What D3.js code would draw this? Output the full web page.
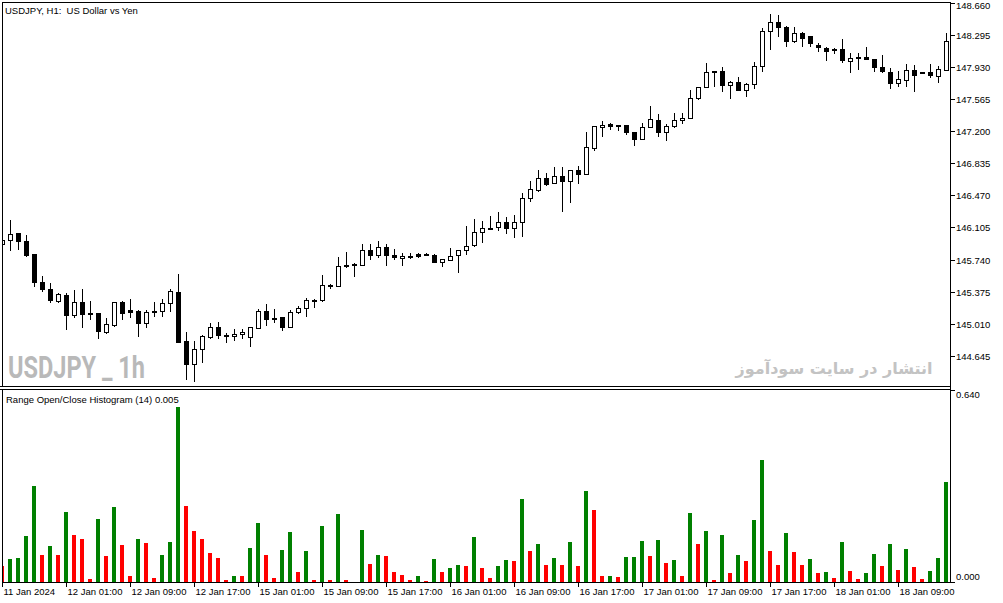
<!DOCTYPE html>
<html>
<head>
<meta charset="utf-8">
<script src="https://cdn.jsdelivr.net/npm/d3@7"></script>
<style>
body{margin:0;background:#fff;}
svg text{font-family:"Liberation Sans",Arial,sans-serif;font-size:9.5px;fill:#000;white-space:pre;}
</style>
</head>
<body>
<div id="chart"></div>
<script>

// USDJPY H1, 11 Jan 17:00 -> 18 Jan 15:00
const opens = [145.913,145.954,146.033,145.950,145.803,145.484,145.405,145.261,145.333,145.102,
145.254,145.132,145.129,144.908,144.996,145.254,145.156,145.155,145.015,145.140,
145.147,145.242,145.371,144.803,144.545,144.720,144.852,144.965,144.877,144.871,
144.889,144.856,144.958,145.155,145.075,145.079,144.965,145.140,145.178,145.280,
145.269,145.445,145.439,145.670,145.689,145.670,145.848,145.783,145.879,145.791,
145.754,145.780,145.795,145.795,145.791,145.708,145.734,145.783,145.840,145.894,
146.045,146.087,146.106,146.163,146.095,146.163,146.436,146.530,146.663,146.606,
146.683,146.624,146.757,146.708,147.004,147.242,147.271,147.249,147.265,147.183,
147.106,147.242,147.325,147.189,147.249,147.320,147.345,147.567,147.697,147.875,
147.879,147.720,147.749,147.658,147.731,147.931,148.333,148.436,148.379,148.215,
148.311,148.272,148.178,148.140,148.130,148.129,147.988,148.036,148.038,148.015,
147.924,147.867,147.742,147.780,147.886,147.863,147.863,147.817,147.886]

const highs = [145.996,146.189,146.045,146.019,145.806,145.553,145.470,145.356,145.356,145.394,
145.405,145.269,145.132,145.072,145.257,145.269,145.291,145.170,145.166,145.254,
145.291,145.402,145.572,144.913,144.814,144.882,145.022,145.033,144.902,144.947,
144.947,144.973,145.178,145.235,145.178,145.087,145.166,145.212,145.299,145.291,
145.564,145.462,145.772,145.829,145.704,145.916,145.916,145.950,145.916,145.859,
145.811,145.811,145.811,145.811,145.803,145.748,145.867,145.850,146.121,146.200,
146.178,146.235,146.280,146.220,146.246,146.499,146.632,146.757,146.727,146.788,
146.788,146.757,146.803,147.192,147.261,147.314,147.295,147.268,147.274,147.189,
147.288,147.485,147.394,147.280,147.402,147.402,147.666,147.697,147.977,147.879,
147.924,147.772,147.811,147.742,147.981,148.367,148.527,148.519,148.394,148.379,
148.322,148.275,148.204,148.158,148.147,148.242,148.083,148.083,148.152,148.018,
148.064,147.913,147.882,147.962,147.950,147.866,147.962,147.939,148.311]

const lows = [145.882,145.840,145.848,145.772,145.431,145.374,145.249,145.242,144.939,145.079,
144.965,145.053,144.837,144.894,144.977,145.053,145.072,144.863,144.965,145.083,
145.083,145.140,144.792,144.371,144.352,144.567,144.837,144.837,144.795,144.817,
144.833,144.749,144.947,144.984,145.015,144.931,144.958,145.121,145.090,145.186,
145.263,145.402,145.431,145.647,145.545,145.666,145.734,145.754,145.666,145.734,
145.670,145.746,145.754,145.780,145.700,145.652,145.726,145.583,145.791,145.886,
145.931,146.075,146.067,146.030,145.988,145.999,146.397,146.511,146.579,146.595,
146.283,146.386,146.602,146.700,146.977,147.129,147.212,147.200,147.152,147.033,
147.098,147.231,147.129,147.090,147.231,147.280,147.342,147.553,147.686,147.697,
147.640,147.561,147.658,147.583,147.678,147.874,148.121,148.272,148.158,148.204,
148.158,148.158,148.102,147.996,148.072,147.979,147.856,147.894,148.005,147.874,
147.856,147.678,147.704,147.704,147.647,147.843,147.799,147.742,147.883]

const closes = [145.962,146.027,145.942,145.791,145.477,145.402,145.272,145.345,145.102,145.254,
145.117,145.124,144.920,145.004,145.254,145.129,145.138,145.015,145.140,145.152,
145.242,145.382,144.795,144.545,144.720,144.863,144.965,144.874,144.872,144.890,
144.908,144.970,145.155,145.053,145.064,144.965,145.140,145.178,145.280,145.274,
145.442,145.439,145.666,145.664,145.689,145.848,145.783,145.879,145.791,145.761,
145.777,145.774,145.776,145.793,145.704,145.746,145.780,145.839,145.892,146.043,
146.095,146.098,146.158,146.091,146.163,146.436,146.538,146.663,146.598,146.689,
146.627,146.755,146.705,147.010,147.249,147.261,147.251,147.265,147.181,147.100,
147.242,147.328,147.186,147.251,147.321,147.339,147.574,147.693,147.866,147.869,
147.723,147.749,147.660,147.727,147.937,148.337,148.435,148.380,148.217,148.314,
148.255,148.196,148.149,148.108,148.118,147.997,148.024,148.027,148.009,147.923,
147.872,147.741,147.781,147.889,147.837,147.854,147.827,147.896,148.218]

// Range Open/Close Histogram (14)
const rangeValues = [0.052,0.076,0.079,0.152,0.319,0.089,0.119,0.089,0.232,0.156,
0.142,0.009,0.209,0.086,0.249,0.122,0.019,0.142,0.129,0.012,
0.089,0.132,0.582,0.252,0.169,0.142,0.096,0.079,0.006,0.019,
0.019,0.112,0.196,0.089,0.012,0.106,0.166,0.032,0.102,0.006,
0.186,0.006,0.226,0.006,0.000,0.172,0.059,0.089,0.086,0.032,
0.022,0.006,0.019,0.002,0.076,0.032,0.046,0.056,0.052,0.149,
0.046,0.012,0.052,0.072,0.069,0.276,0.102,0.126,0.056,0.079,
0.056,0.132,0.052,0.302,0.239,0.019,0.020,0.016,0.082,0.083,
0.136,0.086,0.139,0.062,0.072,0.019,0.229,0.126,0.169,0.006,
0.156,0.029,0.089,0.069,0.206,0.406,0.102,0.056,0.162,0.099,
0.056,0.076,0.029,0.032,0.012,0.132,0.036,0.009,0.029,0.092,
0.052,0.126,0.039,0.109,0.049,0.009,0.036,0.079,0.332]

const priceTicks = [148.660,148.295,147.930,147.565,147.200,146.835,146.470,146.105,145.740,145.375,145.010,144.645]
const rangeTicks = [0.640,0.000]
const timeLabels = ['11 Jan 2024','12 Jan 01:00','12 Jan 09:00','12 Jan 17:00','15 Jan 01:00','15 Jan 09:00',
'15 Jan 17:00','16 Jan 01:00','16 Jan 09:00','16 Jan 17:00','17 Jan 01:00','17 Jan 09:00',
'17 Jan 17:00','18 Jan 01:00','18 Jan 09:00']
const barsPerLabel = 8

const width = 1003, height = 603

const frame = {left:2, right:950, top:2, mainBottom:386, subTop:389, subBottom:582}

const svg = d3.select('#chart')
.append('svg')
.attr('width', width)
.attr('height', height)
.style('display', 'block')

const defs = svg.append('defs')
defs.append('clipPath').attr('id', 'clip-main')
.append('rect')
.attr('x', frame.left + 1).attr('y', frame.top + 1)
.attr('width', frame.right - frame.left - 1).attr('height', frame.mainBottom - frame.top - 1)
defs.append('clipPath').attr('id', 'clip-sub')
.append('rect')
.attr('x', frame.left + 1).attr('y', frame.subTop + 1)
.attr('width', frame.right - frame.left - 1).attr('height', frame.subBottom - frame.subTop - 1)

const xScale = d3.scaleLinear()
.domain([0, opens.length - 1])
.range([2.5, 946.5])

const yPrice = d3.scaleLinear()
.domain([144.645, 148.660])
.range([355.9, 2.6])

const yRange = d3.scaleLinear()
.domain([0, 0.64])
.range([frame.subBottom, 390])

const candles = opens.map((o, i) => ({i:i, open:o, high:highs[i], low:lows[i], close:closes[i]}))

// watermarks
svg.append('text')
.attr('x', 8)
.attr('y', 378)
.attr('textLength', 137)
.attr('lengthAdjust', 'spacingAndGlyphs')
.style('font-family', '"Liberation Sans Narrow","Roboto","Liberation Sans",sans-serif')
.style('font-weight', 'bold')
.style('font-size', '31px')
.style('fill', '#b9b9b9')
.text('USDJPY _ 1h')

svg.append('text')
.attr('x', 834)
.attr('y', 374)
.attr('text-anchor', 'middle')
.attr('direction', 'rtl')
.style('font-family', '"DejaVu Sans",sans-serif')
.style('font-weight', 'bold')
.style('font-size', '16px')
.style('fill', '#c3c3c3')
.text('انتشار در سایت سودآموز')

// candles
const cg = svg.append('g')
.attr('clip-path', 'url(#clip-main)')
.attr('shape-rendering', 'crispEdges')

cg.selectAll('line.wick')
.data(candles)
.enter()
.append('line')
.attr('class', 'wick')
.attr('x1', d => xScale(d.i))
.attr('x2', d => xScale(d.i))
.attr('y1', d => yPrice(d.high))
.attr('y2', d => yPrice(d.low))
.attr('stroke', '#000')
.attr('stroke-width', 1)

cg.selectAll('rect.body')
.data(candles)
.enter()
.append('rect')
.attr('class', 'body')
.attr('x', d => xScale(d.i) - 2)
.attr('width', 4)
.attr('y', d => yPrice(Math.max(d.open, d.close)))
.attr('height', d => Math.max(1, yPrice(Math.min(d.open, d.close)) - yPrice(Math.max(d.open, d.close))))
.attr('fill', d => d.close >= d.open ? '#fff' : '#000')
.attr('stroke', '#000')
.attr('stroke-width', 1)

// histogram
const hg = svg.append('g')
.attr('clip-path', 'url(#clip-sub)')
.attr('shape-rendering', 'crispEdges')

hg.selectAll('rect')
.data(rangeValues)
.enter()
.append('rect')
.attr('x', (d, i) => xScale(i) - 2.5)
.attr('width', 4)
.attr('y', d => yRange(d))
.attr('height', d => yRange(0) - yRange(d))
.attr('fill', (d, i) => i > 0 && d > rangeValues[i - 1] ? '#008000' : '#ff0000')

// frames
const lines = svg.append('g')
.attr('shape-rendering', 'crispEdges')
.attr('stroke', '#000')
.attr('stroke-width', 1)

const hline = (x1, x2, y) => lines.append('line').attr('x1', x1).attr('x2', x2).attr('y1', y + 0.5).attr('y2', y + 0.5)
const vline = (x, y1, y2) => lines.append('line').attr('x1', x + 0.5).attr('x2', x + 0.5).attr('y1', y1).attr('y2', y2)

hline(frame.left, frame.right + 1, frame.top)
hline(0, frame.right + 1, frame.mainBottom)
hline(0, frame.right + 1, frame.subTop)
hline(frame.left, frame.right + 1, frame.subBottom)
vline(frame.left, frame.top, frame.mainBottom + 1)
vline(frame.left, frame.subTop, frame.subBottom + 1)
vline(frame.right, frame.top, frame.subBottom + 1)

// price axis
const pAxis = svg.append('g')

priceTicks.forEach(p => {
	let y = Math.round(yPrice(p))
	pAxis.append('line')
	.attr('shape-rendering', 'crispEdges')
	.attr('x1', frame.right).attr('x2', frame.right + 5)
	.attr('y1', y + 0.5).attr('y2', y + 0.5)
	.attr('stroke', '#000')
	pAxis.append('text')
	.attr('x', 956)
	.attr('y', Math.max(y, 5) + 3.5)
	.text(p.toFixed(3))
})

// histogram axis
rangeTicks.forEach(v => {
	let y = Math.round(yRange(v))
	pAxis.append('line')
	.attr('shape-rendering', 'crispEdges')
	.attr('x1', frame.right).attr('x2', frame.right + 5)
	.attr('y1', y + 0.5).attr('y2', y + 0.5)
	.attr('stroke', '#000')
	pAxis.append('text')
	.attr('x', 956)
	.attr('y', Math.min(Math.max(y, 394), 576) + 3.5)
	.text(v.toFixed(3))
})

// time axis
const tAxis = svg.append('g')

timeLabels.forEach((t, k) => {
	let x = xScale(k * barsPerLabel)
	tAxis.append('line')
	.attr('shape-rendering', 'crispEdges')
	.attr('x1', x).attr('x2', x)
	.attr('y1', frame.subBottom).attr('y2', frame.subBottom + 5)
	.attr('stroke', '#000')
	tAxis.append('text')
	.attr('x', x + 1)
	.attr('y', 595)
	.text(t)
})

// titles
svg.append('text')
.attr('x', 5)
.attr('y', 13.5)
.text('USDJPY, H1:  US Dollar vs Yen')

svg.append('text')
.attr('x', 6)
.attr('y', 402.5)
.text('Range Open/Close Histogram (14) 0.005')

</script>
</body>
</html>
